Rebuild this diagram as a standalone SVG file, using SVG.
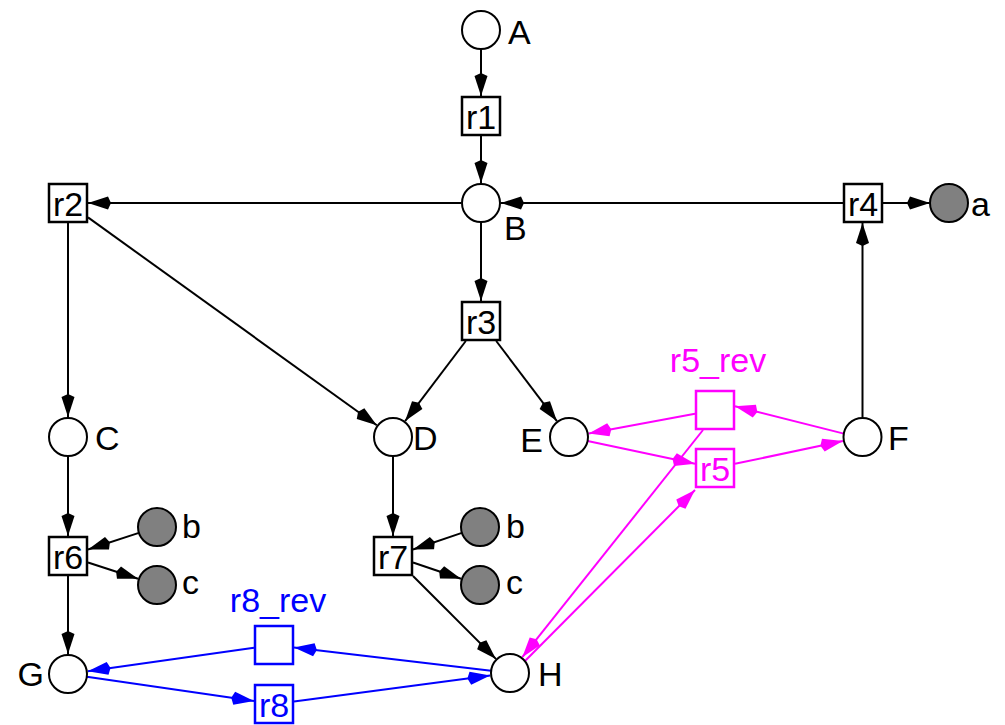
<svg xmlns="http://www.w3.org/2000/svg" width="1005" height="725" viewBox="0 0 1005 725">
<defs>
<style>
text{font-family:"Liberation Sans",Arial,sans-serif;font-size:34px;fill:#000}
.pl{fill:#fff;stroke:#000;stroke-width:2}
.sp{fill:#808080;stroke:#000;stroke-width:2}
.rx{fill:#fff;stroke:#000;stroke-width:2.5}
.rm{fill:#fff;stroke:#f0f;stroke-width:2.5}
.rb{fill:#fff;stroke:#00f;stroke-width:2.5}
.ck{fill:none;stroke:#000;stroke-width:2}
.cm{fill:none;stroke:#f0f;stroke-width:2}
.cb{fill:none;stroke:#00f;stroke-width:2}
.tm{fill:#f0f}
.tb{fill:#00f}
.mid{text-anchor:middle}
.end{text-anchor:end}
</style>
<marker id="ak" markerUnits="userSpaceOnUse" markerWidth="26" markerHeight="16" refX="23" refY="8" orient="auto"><path d="M23,8 L3,1.5 L0,8 L3,14.5 Z" fill="#000"/></marker>
<marker id="am" markerUnits="userSpaceOnUse" markerWidth="26" markerHeight="16" refX="23" refY="8" orient="auto"><path d="M23,8 L3,1.5 L0,8 L3,14.5 Z" fill="#f0f"/></marker>
<marker id="ab" markerUnits="userSpaceOnUse" markerWidth="26" markerHeight="16" refX="23" refY="8" orient="auto"><path d="M23,8 L3,1.5 L0,8 L3,14.5 Z" fill="#00f"/></marker>
</defs>
<rect width="1005" height="725" fill="#fff"/>
<g id="connectors">
<path class="ck" marker-end="url(#ak)" d="M481,50 L481,96"/>
<path class="ck" marker-end="url(#ak)" d="M481,136 L481,183"/>
<path class="ck" marker-end="url(#ak)" d="M461,203 L88,203"/>
<path class="ck" marker-end="url(#ak)" d="M843,203 L501,203"/>
<path class="ck" marker-end="url(#ak)" d="M883,203 L930,203"/>
<path class="ck" marker-end="url(#ak)" d="M862.5,417 L862.5,223"/>
<path class="ck" marker-end="url(#ak)" d="M481,223 L481,301"/>
<path class="ck" marker-end="url(#ak)" d="M465.8,341 L405.1,421.1"/>
<path class="ck" marker-end="url(#ak)" d="M496.2,341 L556.9,421.1"/>
<path class="ck" marker-end="url(#ak)" d="M68,223 L68,417"/>
<path class="ck" marker-end="url(#ak)" d="M88,217.4 L376.8,425.3"/>
<path class="ck" marker-end="url(#ak)" d="M68,457 L68,536"/>
<path class="ck" marker-end="url(#ak)" d="M138.9,532.9 L88,549.5"/>
<path class="ck" marker-end="url(#ak)" d="M88,562.5 L138,578.8"/>
<path class="ck" marker-end="url(#ak)" d="M68,576 L68,654"/>
<path class="ck" marker-end="url(#ak)" d="M393,457 L393,536"/>
<path class="ck" marker-end="url(#ak)" d="M461.9,532.9 L413,549.5"/>
<path class="ck" marker-end="url(#ak)" d="M413,562.5 L461,578.8"/>
<path class="ck" marker-end="url(#ak)" d="M413,576 L495.9,658.9"/>
<path class="cb" marker-end="url(#ab)" d="M86.8,676.7 L254,701.1"/>
<path class="cb" marker-end="url(#ab)" d="M294,701.4 L490.2,675.6"/>
<path class="cb" marker-end="url(#ab)" d="M491.1,670.8 L294,647.4"/>
<path class="cb" marker-end="url(#ab)" d="M254,647.8 L87.8,671.2"/>
<path class="cm" marker-end="url(#am)" d="M843.8,433.6 L735,406.3"/>
<path class="cm" marker-end="url(#am)" d="M695,413.7 L588.7,433.4"/>
<path class="cm" marker-end="url(#am)" d="M587.6,440.9 L695,463.8"/>
<path class="cm" marker-end="url(#am)" d="M735,463.8 L842.9,441.1"/>
<path class="cm" marker-end="url(#am)" d="M703,430 L522.3,657.2"/>
<path class="cm" marker-end="url(#am)" d="M525,661 L695,490"/>
</g>
<g id="A"><circle class="pl" cx="481" cy="30" r="19"/><text x="508" y="44">A</text></g>
<g id="r1"><rect class="rx" x="462" y="97" width="38" height="38"/><text class="mid" x="481" y="128.5">r1</text></g>
<g id="B"><circle class="pl" cx="481" cy="203" r="19"/><text x="504" y="240">B</text></g>
<g id="r2"><rect class="rx" x="49" y="184" width="38" height="38"/><text class="mid" x="68" y="215.5">r2</text></g>
<g id="r4"><rect class="rx" x="844" y="184" width="38" height="38"/><text class="mid" x="863" y="215.5">r4</text></g>
<g id="a"><circle class="sp" cx="949" cy="203" r="19"/><text x="971" y="216">a</text></g>
<g id="r3"><rect class="rx" x="462" y="302" width="38" height="38"/><text class="mid" x="481" y="333.5">r3</text></g>
<g id="C"><circle class="pl" cx="68" cy="437" r="19"/><text x="95" y="450">C</text></g>
<g id="D"><circle class="pl" cx="393" cy="437" r="19"/><text x="413" y="450">D</text></g>
<g id="E"><circle class="pl" cx="569" cy="437" r="19"/><text class="end" x="543" y="452">E</text></g>
<g id="F"><circle class="pl" cx="862.5" cy="437" r="19"/><text x="888" y="450">F</text></g>
<g id="r5_rev"><rect class="rm" x="696" y="391" width="38" height="38"/><text class="mid tm" x="718" y="372">r5_rev</text></g>
<g id="r5"><rect class="rm" x="696" y="449" width="38" height="38"/><text class="mid tm" x="715" y="480.5">r5</text></g>
<g id="r6"><rect class="rx" x="49" y="537" width="38" height="38"/><text class="mid" x="68" y="568.5">r6</text></g>
<g id="b1"><circle class="sp" cx="157" cy="527" r="19"/><text x="182" y="538">b</text></g>
<g id="c1"><circle class="sp" cx="157" cy="585" r="19"/><text x="182" y="594">c</text></g>
<g id="r7"><rect class="rx" x="374" y="537" width="38" height="38"/><text class="mid" x="393" y="568.5">r7</text></g>
<g id="b2"><circle class="sp" cx="480" cy="527" r="19"/><text x="506" y="538">b</text></g>
<g id="c2"><circle class="sp" cx="480" cy="585" r="19"/><text x="506" y="594">c</text></g>
<g id="G"><circle class="pl" cx="68" cy="674" r="19"/><text class="end" x="44" y="686">G</text></g>
<g id="H"><circle class="pl" cx="510" cy="673" r="19"/><text x="538" y="686">H</text></g>
<g id="r8_rev"><rect class="rb" x="255" y="626" width="38" height="38"/><text class="mid tb" x="278" y="612">r8_rev</text></g>
<g id="r8"><rect class="rb" x="255" y="685" width="38" height="38"/><text class="mid tb" x="274" y="716.5">r8</text></g>
</svg>
